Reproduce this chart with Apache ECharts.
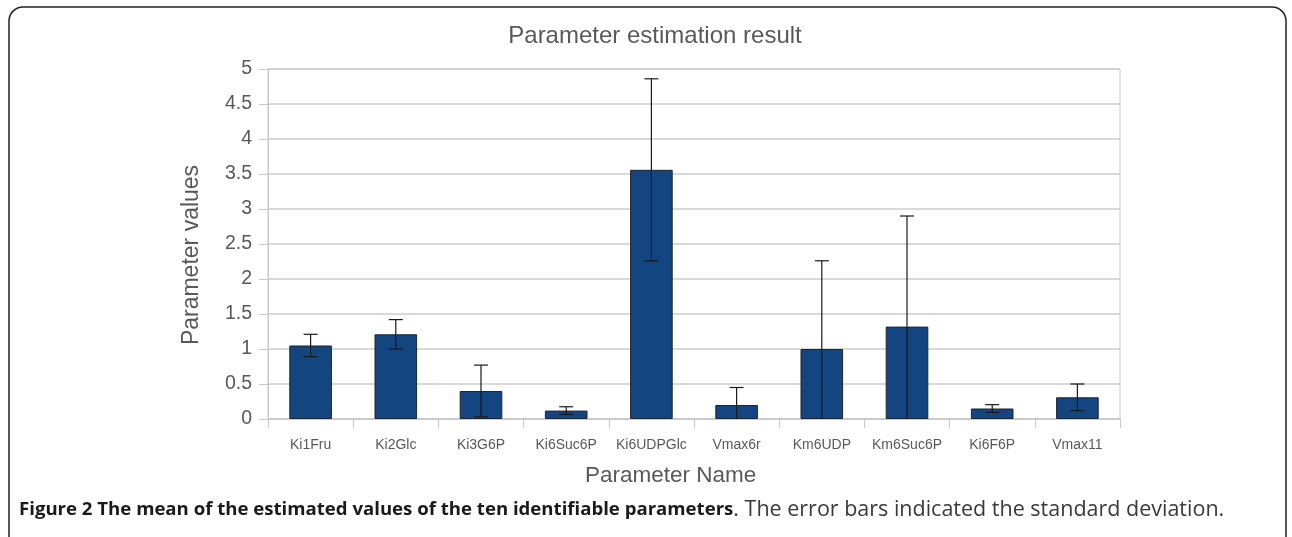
<!DOCTYPE html>
<head>
	<meta charset="utf-8">
	<title>Parameter estimation result</title>
	<script src="https://cdn.jsdelivr.net/npm/echarts@6/dist/echarts.min.js"></script>
	<style>
		html, body { margin: 0; padding: 0; background: #fff; }
	</style>
</head>
<body>
	<div id="main" style="width:1292px; height:537px"></div>
	<script type="text/javascript">
	// data
	var paramNames = ['Ki1Fru', 'Ki2Glc', 'Ki3G6P', 'Ki6Suc6P', 'Ki6UDPGlc', 'Vmax6r', 'Km6UDP', 'Km6Suc6P', 'Ki6F6P', 'Vmax11'];
	var meanValues = [1.05, 1.21, 0.40, 0.12, 3.56, 0.20, 1.00, 1.32, 0.15, 0.31];
	var stdValues  = [0.16, 0.21, 0.37, 0.055, 1.30, 0.25, 1.26, 1.58, 0.055, 0.19];
	var yTicks = [0, 0.5, 1, 1.5, 2, 2.5, 3, 3.5, 4, 4.5, 5];

	var labelGray = '#595959';

	// error bar ranges, cut at the axis (0)
	var errData = meanValues.map(function (m, i) {
		return [i, Math.max(0, m - stdValues[i]), m + stdValues[i]];
	});

	var myChart = echarts.init(document.getElementById('main'));
	var option = {
		backgroundColor: '#ffffff',
		animation: false,
		title: {
			text: 'Parameter estimation result',
			left: 650,
			textAlign: 'center',
			top: 19,
			textStyle: {
				color: labelGray,
				fontFamily: 'Liberation Sans',
				fontSize: 24,
				fontWeight: 'normal'
			}
		},
		grid: {
			left: 268,
			right: 172,
			top: 69,
			bottom: 118,
			show: true,
			borderColor: '#c8c8c8',
			borderWidth: 1
		},
		xAxis: {
			type: 'category',
			data: paramNames,
			axisLine: { lineStyle: { color: '#c8c8c8', width: 1.5 } },
			axisTick: { show: true, length: 9, lineStyle: { color: '#c8c8c8' } },
			axisLabel: {
				interval: 0,
				hideOverlap: false,
				color: labelGray,
				fontFamily: 'Liberation Sans',
				fontSize: 14,
				margin: 19
			}
		},
		yAxis: {
			type: 'value',
			min: yTicks[0],
			max: yTicks[yTicks.length - 1],
			interval: 0.5,
			axisLine: { show: true, lineStyle: { color: '#c8c8c8' } },
			axisTick: { show: true, length: 9, lineStyle: { color: '#c8c8c8' } },
			axisLabel: {
				color: labelGray,
				fontFamily: 'Liberation Sans',
				fontSize: 19.5,
				margin: 16
			},
			splitLine: { lineStyle: { color: '#cccccc', width: 1.5 } }
		},
		series: [
			{
				type: 'bar',
				data: meanValues,
				barWidth: '50%',
				itemStyle: {
					color: '#134581',
					borderColor: '#1c2530',
					borderWidth: 1
				}
			},
			{
				type: 'custom',
				data: errData,
				z: 5,
				renderItem: function (params, api) {
					var x = api.value(0);
					var lo = api.coord([x, api.value(1)]);
					var hi = api.coord([x, api.value(2)]);
					var cap = 7;
					var style = { stroke: '#1a1a1a', lineWidth: 1.2 };
					var kids = [
						{ type: 'line', shape: { x1: hi[0], y1: hi[1], x2: lo[0], y2: lo[1] }, style: style },
						{ type: 'line', shape: { x1: hi[0] - cap, y1: hi[1], x2: hi[0] + cap, y2: hi[1] }, style: style }
					];
					if (api.value(1) > 0) {
						kids.push({ type: 'line', shape: { x1: lo[0] - cap, y1: lo[1], x2: lo[0] + cap, y2: lo[1] }, style: style });
					}
					return { type: 'group', children: kids };
				}
			}
		],
		graphic: [
			{
				type: 'rect',
				shape: { x: 9, y: 7, width: 1277, height: 560, r: 14 },
				style: { fill: null, stroke: '#222', lineWidth: 1.5 },
				silent: true
			},
			{
				// y axis title
				type: 'text',
				x: 192,
				y: 255,
				rotation: Math.PI / 2,
				style: {
					text: 'Parameter values',
					fill: labelGray,
					font: '23px "Liberation Sans"',
					align: 'center',
					verticalAlign: 'middle'
				}
			},
			{
				type: 'text',
				left: 585,
				top: 464,
				style: {
					text: 'Parameter Name',
					fill: labelGray,
					font: '22.5px "Liberation Sans"'
				}
			},
			{
				type: 'text',
				left: 19,
				top: 499,
				style: {
					text: '{b|Figure 2 The mean of the estimated values of the ten identifiable parameters}{n|. The error bars indicated the standard deviation.}',
					rich: {
						b: { fontFamily: 'Open Sans', fontSize: 18.6, fontWeight: 'bold', fill: '#1a1a1a' },
						n: { fontFamily: 'Open Sans', fontSize: 21.5, fill: '#3a3a3a' }
					}
				}
			}
		]
	};

	myChart.setOption(option);
	</script>
</body>
